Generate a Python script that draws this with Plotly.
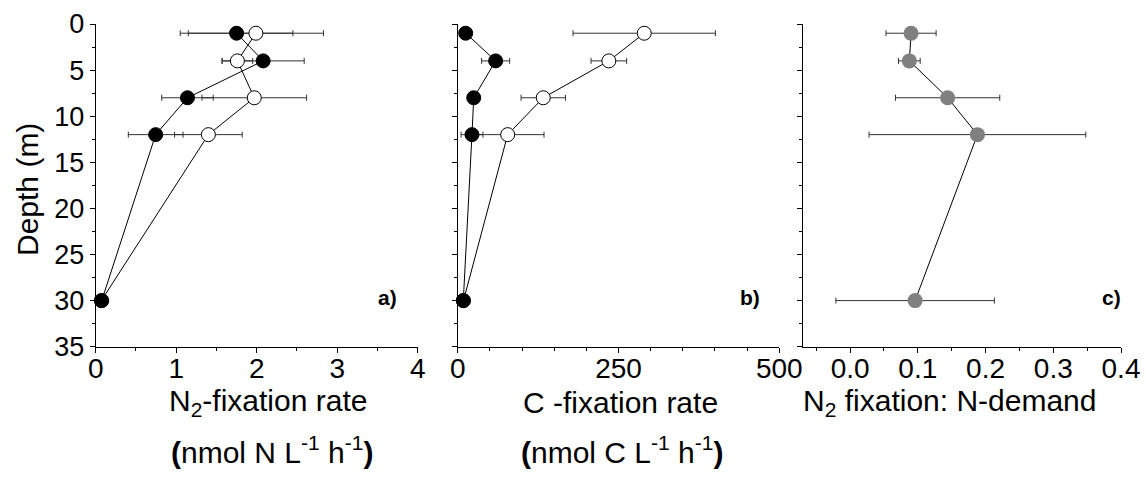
import plotly.graph_objects as go

W, H = 1146, 488

# ---------------- data ----------------
depth = [1, 4, 8, 12, 30]

# panel a: N2 fixation rate (nmol N L-1 h-1)
n2_filled = [1.75, 2.08, 1.14, 0.745, 0.075]
n2_filled_err = [0.70, 0.51, 0.32, 0.34, 0.0]
n2_open = [1.99, 1.76, 1.97, 1.40, 0.07]
n2_open_err = [0.84, 0.19, 0.65, 0.42, 0.0]

# panel b: C fixation rate (nmol C L-1 h-1)
c_filled = [12.4, 59.0, 24.9, 22.2, 8.7]
c_filled_err = [0.0, 21.8, 0.0, 17.0, 0.0]
c_open = [290.0, 235.0, 133.0, 77.7, 9.0]
c_open_err = [110.7, 27.7, 34.5, 56.5, 0.0]

# panel c: N2 fixation : N-demand
ratio = [0.090, 0.0875, 0.144, 0.188, 0.096]
ratio_err = [0.037, 0.016, 0.077, 0.160, 0.117]

y_ticks = [0, 5, 10, 15, 20, 25, 30, 35]
panel_labels = ["a)", "b)", "c)"]

# ---------------- layout helpers ----------------
def px_x(p):
    return p / W

def px_y(p):
    return 1 - p / H

ytop, ybot = 24, 346.7
doms = [(95.7, 417.7), (457.7, 779.3), (802.7, 1121.0)]

fig = go.Figure()

ERR_COLOR = "#333333"

def err_trace(x, e, xa, ya, color=ERR_COLOR):
    return go.Scatter(
        x=x, y=depth, xaxis=xa, yaxis=ya, mode="markers",
        marker=dict(size=1, color="rgba(0,0,0,0)"),
        error_x=dict(type="data", array=e, visible=True, color=color,
                     thickness=1, width=3),
        showlegend=False, hoverinfo="skip", cliponaxis=False)

def line_trace(x, xa, ya):
    return go.Scatter(x=x, y=depth, xaxis=xa, yaxis=ya, mode="lines",
                      line=dict(color="black", width=1), showlegend=False,
                      cliponaxis=False)

def mark_trace(x, xa, ya, fill, outline, size=14, lw=1):
    return go.Scatter(x=x, y=depth, xaxis=xa, yaxis=ya, mode="markers",
                      marker=dict(size=size, color=fill,
                                  line=dict(color=outline, width=lw)),
                      showlegend=False, cliponaxis=False)

# panel a
fig.add_trace(err_trace(n2_open, n2_open_err, "x", "y"))
fig.add_trace(err_trace(n2_filled, n2_filled_err, "x", "y"))
fig.add_trace(line_trace(n2_open, "x", "y"))
fig.add_trace(line_trace(n2_filled, "x", "y"))
fig.add_trace(mark_trace(n2_open, "x", "y", "white", "black"))
fig.add_trace(mark_trace(n2_filled, "x", "y", "black", "black"))

# panel b
fig.add_trace(err_trace(c_open, c_open_err, "x2", "y2"))
fig.add_trace(err_trace(c_filled, c_filled_err, "x2", "y2"))
fig.add_trace(line_trace(c_open, "x2", "y2"))
fig.add_trace(line_trace(c_filled, "x2", "y2"))
fig.add_trace(mark_trace(c_open, "x2", "y2", "white", "black"))
fig.add_trace(mark_trace(c_filled, "x2", "y2", "black", "black"))

# panel c
fig.add_trace(err_trace(ratio, ratio_err, "x3", "y3"))
fig.add_trace(line_trace(ratio, "x3", "y3"))
fig.add_trace(mark_trace(ratio, "x3", "y3", "#808080", "#808080", size=15, lw=0))

FAM = "Liberation Sans, Arial, sans-serif"
XTICKFONT = dict(family=FAM, size=28, color="black")
YTICKFONT = dict(family=FAM, size=27, color="black")

def xaxis_cfg(i, rng, dtick, mdtick, fmt=None):
    d = dict(domain=[px_x(doms[i][0]), px_x(doms[i][1])], range=rng,
             anchor="y" if i == 0 else f"y{i+1}", automargin=False,
             showline=True, linecolor="black", linewidth=1, mirror=False,
             showgrid=False, zeroline=False, ticks="outside", ticklen=5,
             tickwidth=1, tickcolor="black", tick0=0, dtick=dtick,
             tickfont=XTICKFONT, ticklabelstandoff=-8,
             minor=dict(ticks="outside", ticklen=3, tickwidth=1,
                        tickcolor="black", dtick=mdtick, tick0=0, showgrid=False))
    if fmt:
        d["tickformat"] = fmt
    return d

def yaxis_cfg(i, labels):
    return dict(domain=[px_y(ybot), px_y(ytop)], range=[35, 0],
                anchor="x" if i == 0 else f"x{i+1}", automargin=False,
                showline=True, linecolor="black", linewidth=1,
                showgrid=False, zeroline=False, ticks="outside", ticklen=5,
                tickwidth=1, tickcolor="black", tickvals=y_ticks,
                showticklabels=labels, tickfont=YTICKFONT,
                minor=dict(ticks="outside", ticklen=3, tickwidth=1,
                           tickcolor="black", dtick=2.5, tick0=0, showgrid=False))

fig.update_layout(
    width=W, height=H, margin=dict(l=0, r=0, t=0, b=0),
    paper_bgcolor="white", plot_bgcolor="white",
    font=dict(family=FAM, color="black"),
    xaxis=xaxis_cfg(0, [0, 4], 1, 0.5),
    xaxis2=xaxis_cfg(1, [0, 500], 250, 50),
    xaxis3=xaxis_cfg(2, [-0.07, 0.4], 0.1, 0.05, ".1f"),
    yaxis=yaxis_cfg(0, True),
    yaxis2=yaxis_cfg(1, False),
    yaxis3=yaxis_cfg(2, False),
)

TITLEFONT = dict(family=FAM, size=30, color="black")

anns = [
    ("Depth (m)", 27, 190, -90),
    ("N<sub>2</sub>-fixation rate", 268, 402, 0),
    ("<b>(</b>nmol N L<sup>-1</sup> h<sup>-1</sup><b>)</b>", 272, 450, 0),
    ("C -fixation rate", 620, 402, 0),
    ("<b>(</b>nmol C L<sup>-1</sup> h<sup>-1</sup><b>)</b>", 622, 450, 0),
    ("N<sub>2</sub> fixation: N-demand", 950, 402, 0),
]
for txt, x, y, ang in anns:
    fig.add_annotation(text=txt, xref="paper", yref="paper", x=px_x(x), y=px_y(y),
                       xanchor="center", yanchor="middle", showarrow=False,
                       textangle=ang, font=TITLEFONT)

for lab, x in zip(panel_labels, [387, 750, 1111]):
    fig.add_annotation(text=f"<b>{lab}</b>", xref="paper", yref="paper",
                       x=px_x(x), y=px_y(297), xanchor="center", yanchor="middle",
                       showarrow=False,
                       font=dict(family=FAM, size=21, color="black"))

fig.write_html("out.html", config={"displayModeBar": False},
               post_script="document.body.style.margin='0';document.body.style.overflow='hidden';")
